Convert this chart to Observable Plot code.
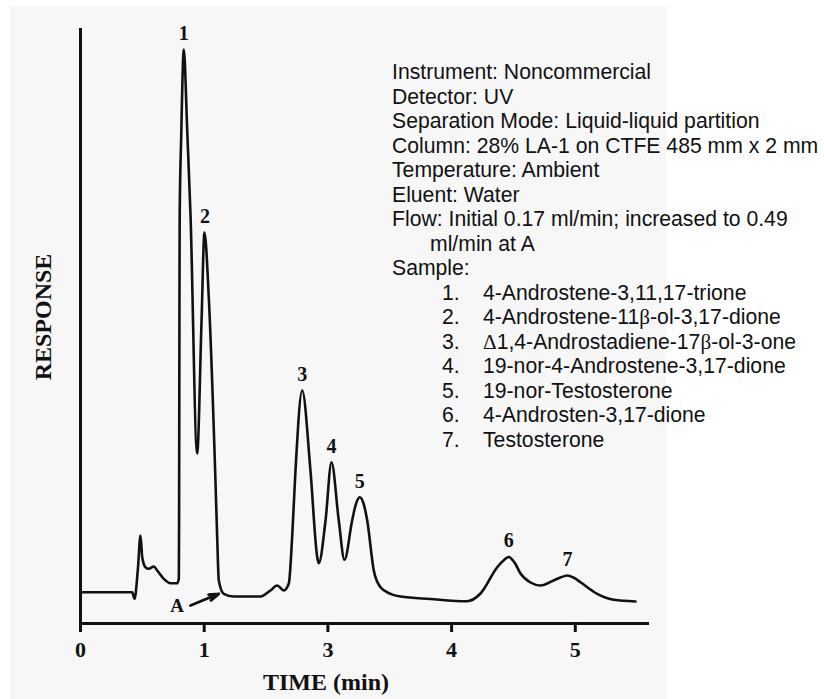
<!DOCTYPE html>
<html><head><meta charset="utf-8">
<script src="https://cdn.jsdelivr.net/npm/d3@7"></script>
<script src="https://cdn.jsdelivr.net/npm/@observablehq/plot@0.6"></script>
<style>
html,body{margin:0;padding:0;background:#fff;}
#wrap{position:relative;width:824px;height:699px;overflow:hidden;}
#bg{position:absolute;left:10px;top:6px;width:656px;height:693px;background:#f7f7f7;}
#chart{position:absolute;left:0;top:0;}
#notes{position:absolute;left:392px;top:60px;font-family:"Liberation Sans",Arial,sans-serif;font-size:21.2px;line-height:24.5px;color:#111;white-space:nowrap;}
#notes .cont{padding-left:38px;}
#notes .num{display:inline-block;width:41px;margin-left:50px;}
#notes .greek{font-family:"Liberation Serif","Times New Roman",serif;}
</style></head><body>
<div id="wrap"><div id="bg"></div><div id="chart"></div><div id="notes"></div></div>
<script>
// Chromatogram trace: time axis position and detector response (arbitrary units)
const time = [0.000,0.418,0.437,0.463,0.485,0.499,0.525,0.552,0.593,0.620,0.673,0.728,0.782,0.795,0.797,0.800,0.802,0.814,0.835,0.863,0.889,0.943,0.978,1.002,1.037,1.091,1.105,1.118,1.158,1.239,1.455,1.536,1.590,1.643,1.684,1.711,1.738,1.792,1.859,1.914,1.926,1.981,2.029,2.088,2.134,2.196,2.223,2.258,2.288,2.318,2.371,2.425,2.506,2.587,2.829,3.126,3.234,3.369,3.411,3.462,3.509,3.557,3.638,3.719,3.824,3.880,3.937,3.985,4.042,4.177,4.311,4.487];
const response = [5.26,5.26,4.15,8.91,14.79,11.14,9.46,9.19,9.58,8.91,7.51,6.77,6.77,7.56,17.31,54.29,68.91,81.68,96.47,82.69,68.91,28.57,50.42,65.71,54.84,24.03,14.50,7.23,4.99,4.54,4.54,5.55,6.39,5.55,6.72,14.50,25.71,39.16,25.71,11.14,10.13,17.31,27.11,17.31,10.71,17.31,19.83,21.23,20.17,17.31,8.91,6.10,4.99,4.54,4.12,3.75,5.04,9.46,10.42,11.18,10.25,8.40,6.89,6.39,7.23,7.73,8.07,7.73,6.94,4.99,3.98,3.70];

// Peak identification
const peakNumbers = ["1","2","3","4","5","6","7"];
const peakTimes = [0.835,1.007,1.792,2.029,2.258,3.462,3.937];
const peakHeights = [96.47,65.71,39.16,27.11,21.23,11.18,8.07];

// Flow change marker "A"
const markerLabel = ["A"];
const markerLabelTime = [0.782];
const markerLabelResponse = [3.03];
const arrowFromTime = [0.889], arrowFromResponse = [3.03];
const arrowToTime = [1.118], arrowToResponse = [4.99];

// Axis
const tickValues = [0,1,2,3,4];
const tickLabels = ["0","1","3","4","5"];
const xTitle = "TIME (min)";
const yTitle = "RESPONSE";

// Conditions text
const conditions = ["Instrument: Noncommercial","Detector: UV","Separation Mode: Liquid-liquid partition","Column: 28% LA-1 on CTFE 485 mm x 2 mm","Temperature: Ambient","Eluent: Water","Flow: Initial 0.17 ml/min; increased to 0.49"];
const conditionsCont = ["ml/min at A"];
const sampleHeader = "Sample:";
const sampleNumbers = ["1.","2.","3.","4.","5.","6.","7."];
const sampleNames = ["4-Androstene-3,11,17-trione","4-Androstene-11\u03b2-ol-3,17-dione","\u03941,4-Androstadiene-17\u03b2-ol-3-one","19-nor-4-Androstene-3,17-dione","19-nor-Testosterone","4-Androsten-3,17-dione","Testosterone"];

const trace = time.map((t,i)=>({t, r: response[i]}));
const peaks = peakNumbers.map((n,i)=>({n, t: peakTimes[i], r: peakHeights[i]}));
const marker = markerLabel.map((l,i)=>({l, t: markerLabelTime[i], r: markerLabelResponse[i]}));
const arrows = arrowFromTime.map((t,i)=>({x1: t, y1: arrowFromResponse[i], x2: arrowToTime[i], y2: arrowToResponse[i]}));

const ink = "#111";
const serif = "'Liberation Serif','Times New Roman',serif";

const chart = Plot.plot({
  width: 824, height: 699,
  marginLeft: 80, marginRight: 175, marginTop: 28, marginBottom: 76,
  style: {background: "transparent", fontFamily: serif, fontWeight: "bold", color: ink},
  x: {domain: [0, 4.6]},
  y: {domain: [0, 100], axis: null},
  marks: [
    Plot.ruleX([0], {stroke: ink, strokeWidth: 3}),
    Plot.ruleY([0], {stroke: ink, strokeWidth: 3}),
    Plot.axisX({ticks: tickValues, tickFormat: d => tickLabels[tickValues.indexOf(d)], tickSize: 9, tickPadding: 9, strokeWidth: 3, fontSize: 22, fontWeight: "bold", label: null}),
    Plot.line(trace, {x: "t", y: "r", stroke: ink, strokeWidth: 2.6, curve: "monotone-x", strokeLinejoin: "round"}),
    Plot.text(peaks, {x: "t", y: "r", text: "n", dy: -16, fontSize: 20, fontWeight: "bold", fill: ink, lineAnchor: "middle"}),
    Plot.text(marker, {x: "t", y: "r", text: "l", fontSize: 19, fontWeight: "bold", fill: ink, lineAnchor: "middle"}),
    Plot.arrow(arrows, {x1: "x1", y1: "y1", x2: "x2", y2: "y2", stroke: ink, strokeWidth: 2.8, headLength: 11, headAngle: 35}),
    Plot.text([yTitle], {text: d => d, frameAnchor: "left", rotate: -90, dx: -37, dy: -9, fontSize: 24, fontWeight: "bold", fill: ink, textAnchor: "middle", lineAnchor: "middle"}),
    Plot.text([xTitle], {text: d => d, frameAnchor: "bottom", dx: -39, dy: 59, fontSize: 24, fontWeight: "bold", fill: ink, textAnchor: "middle", lineAnchor: "middle"})
  ]
});
document.getElementById("chart").appendChild(chart);

const notes = document.getElementById("notes");
function appendWithGreek(el, text) {
  for (const part of text.split(/([\u0394\u03b2])/)) {
    if (!part) continue;
    if (/^[\u0394\u03b2]$/.test(part)) { const g = document.createElement("span"); g.className = "greek"; g.textContent = part; el.appendChild(g); }
    else el.appendChild(document.createTextNode(part));
  }
}
function addLine(text, cls) { const d = document.createElement("div"); if (cls) d.className = cls; d.textContent = text; notes.appendChild(d); return d; }
conditions.forEach(l => addLine(l));
conditionsCont.forEach(l => addLine(l, "cont"));
addLine(sampleHeader);
sampleNumbers.forEach((n, i) => {
  const d = document.createElement("div");
  const s = document.createElement("span"); s.className = "num"; s.textContent = n;
  d.appendChild(s); appendWithGreek(d, sampleNames[i]);
  notes.appendChild(d);
});
</script>
</body></html>
